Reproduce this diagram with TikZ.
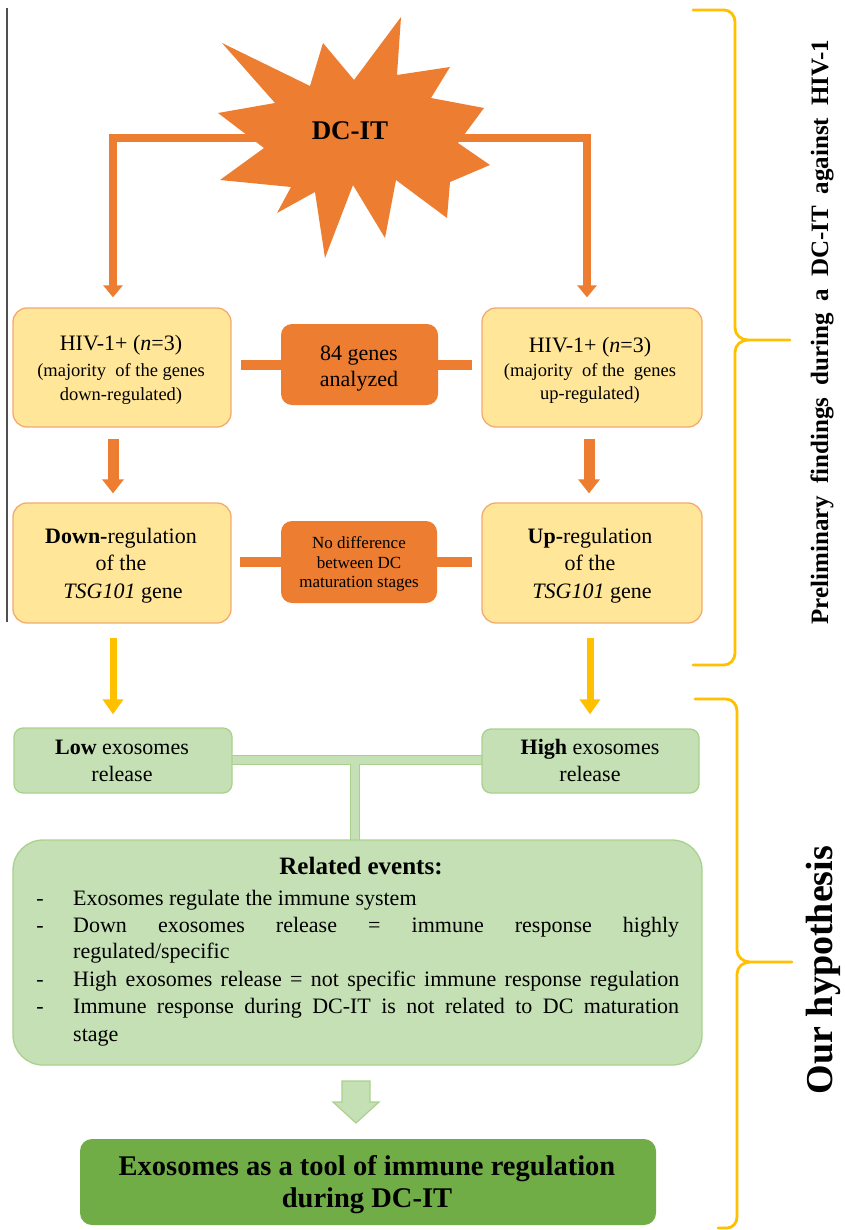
\documentclass[tikz,border=0pt]{standalone}
\usepackage{fontspec}
\setmainfont{Liberation Serif}
\usetikzlibrary{arrows.meta,calc}
\definecolor{orng}{RGB}{237,125,49}
\definecolor{yfill}{RGB}{255,230,153}
\definecolor{ybord}{RGB}{244,170,110}
\definecolor{gold}{RGB}{255,192,0}
\definecolor{gfill}{RGB}{197,224,180}
\definecolor{gbord}{RGB}{169,209,142}
\definecolor{dgreen}{RGB}{112,173,71}
\definecolor{vline}{RGB}{80,80,80}
\newcommand{\fsz}[1]{\fontsize{#1}{#1}\selectfont}
\begin{document}
\begin{tikzpicture}[x=1pt,y=-1pt,
  ybox/.style={draw=ybord, fill=yfill, line width=1.3pt, rounded corners=14pt, minimum width=218pt, minimum height=119pt, inner sep=0pt},
  obox/.style={fill=orng, rounded corners=11pt, inner sep=0pt},
  gbox/.style={draw=gbord, fill=gfill, line width=1.3pt, rounded corners=9pt, inner sep=0pt},
  tx/.style={anchor=base, inner sep=0pt},
  oarrA/.style={draw=orng, line width=8pt, -{Triangle[width=19pt,length=12pt]}},
  oarrB/.style={draw=orng, line width=11pt, -{Triangle[width=21pt,length=14pt]}},
  yarr/.style={draw=gold, line width=7pt, -{Triangle[width=20pt,length=15pt]}},
  obar/.style={draw=orng, line width=10pt},
  gbarout/.style={draw=gbord, line width=10pt},
  gbar/.style={draw=gfill, line width=8pt},
  brace/.style={draw=gold, line width=2.8pt, line cap=round},
]
\useasboundingbox (0,0) rectangle (844,1230);
\fill[white] (0,0) rectangle (844,1230);

% thin left line
\draw[vline, line width=1.1pt] (7,8) -- (7,622);

% green connectors (behind the boxes)
\coordinate (gj) at (355,760);
\coordinate (gl) at (200,760);
\coordinate (gr) at (520,760);
\coordinate (gb) at (355,850);
\draw[gbarout] (gl) -- (gr) (gj) -- (gb);
\draw[gbar] (gl) -- (gr) (gj) -- (gb);

% boxes
\node[ybox] (hl) at (122,367.5) {};
\node[ybox, minimum width=220pt] (hr) at (592,367.5) {};
\node[obox, minimum width=157pt, minimum height=81pt] (genes) at (359.5,364.5) {};
\node[ybox, minimum height=120pt] (dl) at (122,563) {};
\node[ybox, minimum width=220pt, minimum height=120pt] (dr) at (592,563) {};
\node[obox, minimum width=156pt, minimum height=82pt] (nodiff) at (359,562) {};
\node[gbox, minimum width=218pt, minimum height=65pt] (low) at (123,760.5) {};
\node[gbox, minimum width=217pt, minimum height=64pt] (high) at (590.5,761) {};
\node[gbox, rounded corners=30pt, minimum width=689pt, minimum height=225pt] (events) at (357.5,952.5) {};
\node[fill=dgreen, rounded corners=12pt, inner sep=0pt, minimum width=576pt, minimum height=86pt] (final) at (368,1182) {};

% orange arrows from the star
\coordinate (sL) at (300,138);
\coordinate (sR) at (400,138);
\draw[oarrA, shorten >=10pt] (sL) -| ([xshift=-9pt]hl.north);
\draw[oarrA, shorten >=10pt] (sR) -| ([xshift=-5pt]hr.north);

% star
\fill[orng] (218,113) -- (275,103) -- (222,43) -- (310,86) -- (323,43) -- (354,80)
  -- (401,17) -- (397,75) -- (450,67) -- (431,98) -- (484,108) -- (458,143)
  -- (490,165) -- (450,182) -- (447,218) -- (396,180) -- (385,238) -- (353,185)
  -- (325,258) -- (315,192) -- (277,213) -- (291,187) -- (220,180) -- (264,148) -- cycle;
\node[tx, font=\bfseries\fsz{27}] (dcit) at (350,140) {DC-IT};

% orange bars
\draw[obar, shorten <=9pt] (hl.east |- genes.west) -- (genes.west);
\draw[obar, shorten >=9pt] (genes.east) -- (hr.west |- genes.east);
\draw[obar, shorten <=8pt] (dl.east |- nodiff.west) -- (nodiff.west);
\draw[obar, shorten >=9pt] (nodiff.east) -- (dr.west |- nodiff.east);

% orange down arrows
\draw[oarrB, shorten <=11pt, shorten >=9pt] ([xshift=-9pt]hl.south) -- ([xshift=-9pt]dl.north);
\draw[oarrB, shorten <=11pt, shorten >=9pt] ([xshift=-3pt]hr.south) -- ([xshift=-3pt]dr.north);

% yellow arrows
\draw[yarr, shorten <=14pt, shorten >=13pt] ([xshift=-9pt]dl.south) -- ([xshift=-10pt]low.north);
\draw[yarr, shorten <=14pt, shorten >=14pt] ([xshift=-2pt]dr.south) -- ([xshift=-0.5pt]high.north);

% block arrow
\filldraw[fill=gfill, draw=gbord, line width=1.2pt] (342,1081) -- (370,1081) -- (370,1102) -- (379,1102)
  -- (356,1123) -- (333,1102) -- (342,1102) -- cycle;

% texts in the boxes
\node[tx, font=\fsz{22}] (hl1) at (121,350) {HIV-1+ (\textit{n}=3)};
\node[tx, font=\fsz{18.5}] (hl2) at (121,376) {(majority\ \ of the genes};
\node[tx, font=\fsz{18.5}] (hl3) at (121,400) {down-regulated)};
\node[tx, font=\fsz{22}] (hr1) at (590,352) {HIV-1+ (\textit{n}=3)};
\node[tx, font=\fsz{18.5}] (hr2) at (590,376) {(majority\ \ of the\ \ genes};
\node[tx, font=\fsz{18.5}] (hr3) at (590,399) {up-regulated)};
\node[tx, font=\fsz{22}] (g1) at (359,360) {84 genes};
\node[tx, font=\fsz{22}] (g2) at (359,386) {analyzed};

\node[tx, font=\fsz{22}] (dl1) at (121,543) {\textbf{Down-}regulation};
\node[tx, font=\fsz{22}] (dl2) at (121,570) {of the};
\node[tx, font=\fsz{22}] (dl3) at (123,598) {\textit{TSG101} gene};
\node[tx, font=\fsz{22}] (dr1) at (590,543) {\textbf{Up-}regulation};
\node[tx, font=\fsz{22}] (dr2) at (590,570) {of the};
\node[tx, font=\fsz{22}] (dr3) at (592,598) {\textit{TSG101} gene};
\node[tx, font=\fsz{17}] (n1) at (359,548) {No difference};
\node[tx, font=\fsz{17}] (n2) at (359,568) {between DC};
\node[tx, font=\fsz{17}] (n3) at (359,587) {maturation stages};

\node[tx, font=\fsz{22}] (lo1) at (122,754) {\textbf{Low} exosomes};
\node[tx, font=\fsz{22}] (lo2) at (122,781) {release};
\node[tx, font=\fsz{22}] (hi1) at (590,754) {\textbf{High} exosomes};
\node[tx, font=\fsz{22}] (hi2) at (590,781) {release};

\node[tx, font=\bfseries\fsz{25}] (evt) at (361,874) {Related events:};
\node[tx, font=\fsz{22}] (d1) at (40,905) {-};
\node[tx, font=\fsz{22}] (d2) at (40,932) {-};
\node[tx, font=\fsz{22}] (d3) at (40,986) {-};
\node[tx, font=\fsz{22}] (d4) at (40,1013) {-};
\node[tx, anchor=base west, font=\fsz{22}] (e1) at (73,905) {Exosomes regulate the immune system};
\node[tx, anchor=base west, font=\fsz{22}] (e2) at (73,932) {\makebox[606pt][s]{Down exosomes release = immune response highly}};
\node[tx, anchor=base west, font=\fsz{22}] (e3) at (73,958) {regulated/specific};
\node[tx, anchor=base west, font=\fsz{22}] (e4) at (73,986) {\makebox[606pt][s]{High exosomes release = not specific immune response regulation}};
\node[tx, anchor=base west, font=\fsz{22}] (e5) at (73,1013) {\makebox[606pt][s]{Immune response during DC-IT is not related to DC maturation}};
\node[tx, anchor=base west, font=\fsz{22}] (e6) at (73,1041) {stage};

\node[tx, font=\bfseries\fsz{28.5}] (f1) at (367,1175) {Exosomes as a tool of immune regulation};
\node[tx, font=\bfseries\fsz{28.5}] (f2) at (367,1207) {during DC-IT};

% braces
\draw[brace] (693,10) -- (724,10) to[out=0,in=90] (735,22) -- (735,328) to[out=-90,in=180] (748,340) -- (790,340)
  (748,340) to[out=180,in=90] (735,352) -- (735,653) to[out=-90,in=0] (724,665) -- (693,665);
\draw[brace] (695,699) -- (726,699) to[out=0,in=90] (737,711) -- (737,950) to[out=-90,in=180] (750,962) -- (792,962)
  (750,962) to[out=180,in=90] (737,974) -- (737,1217) to[out=-90,in=0] (727,1228) -- (718,1228);

% side labels
\node[rotate=90, inner sep=0pt, font=\bfseries\fsz{25}] (lab1) at (822,332) {\makebox[585pt][s]{Preliminary findings during a DC-IT against HIV-1}};
\node[rotate=90, inner sep=0pt, font=\bfseries\fsz{38}] (lab2) at (823,970) {Our hypothesis};
\end{tikzpicture}
\end{document}
